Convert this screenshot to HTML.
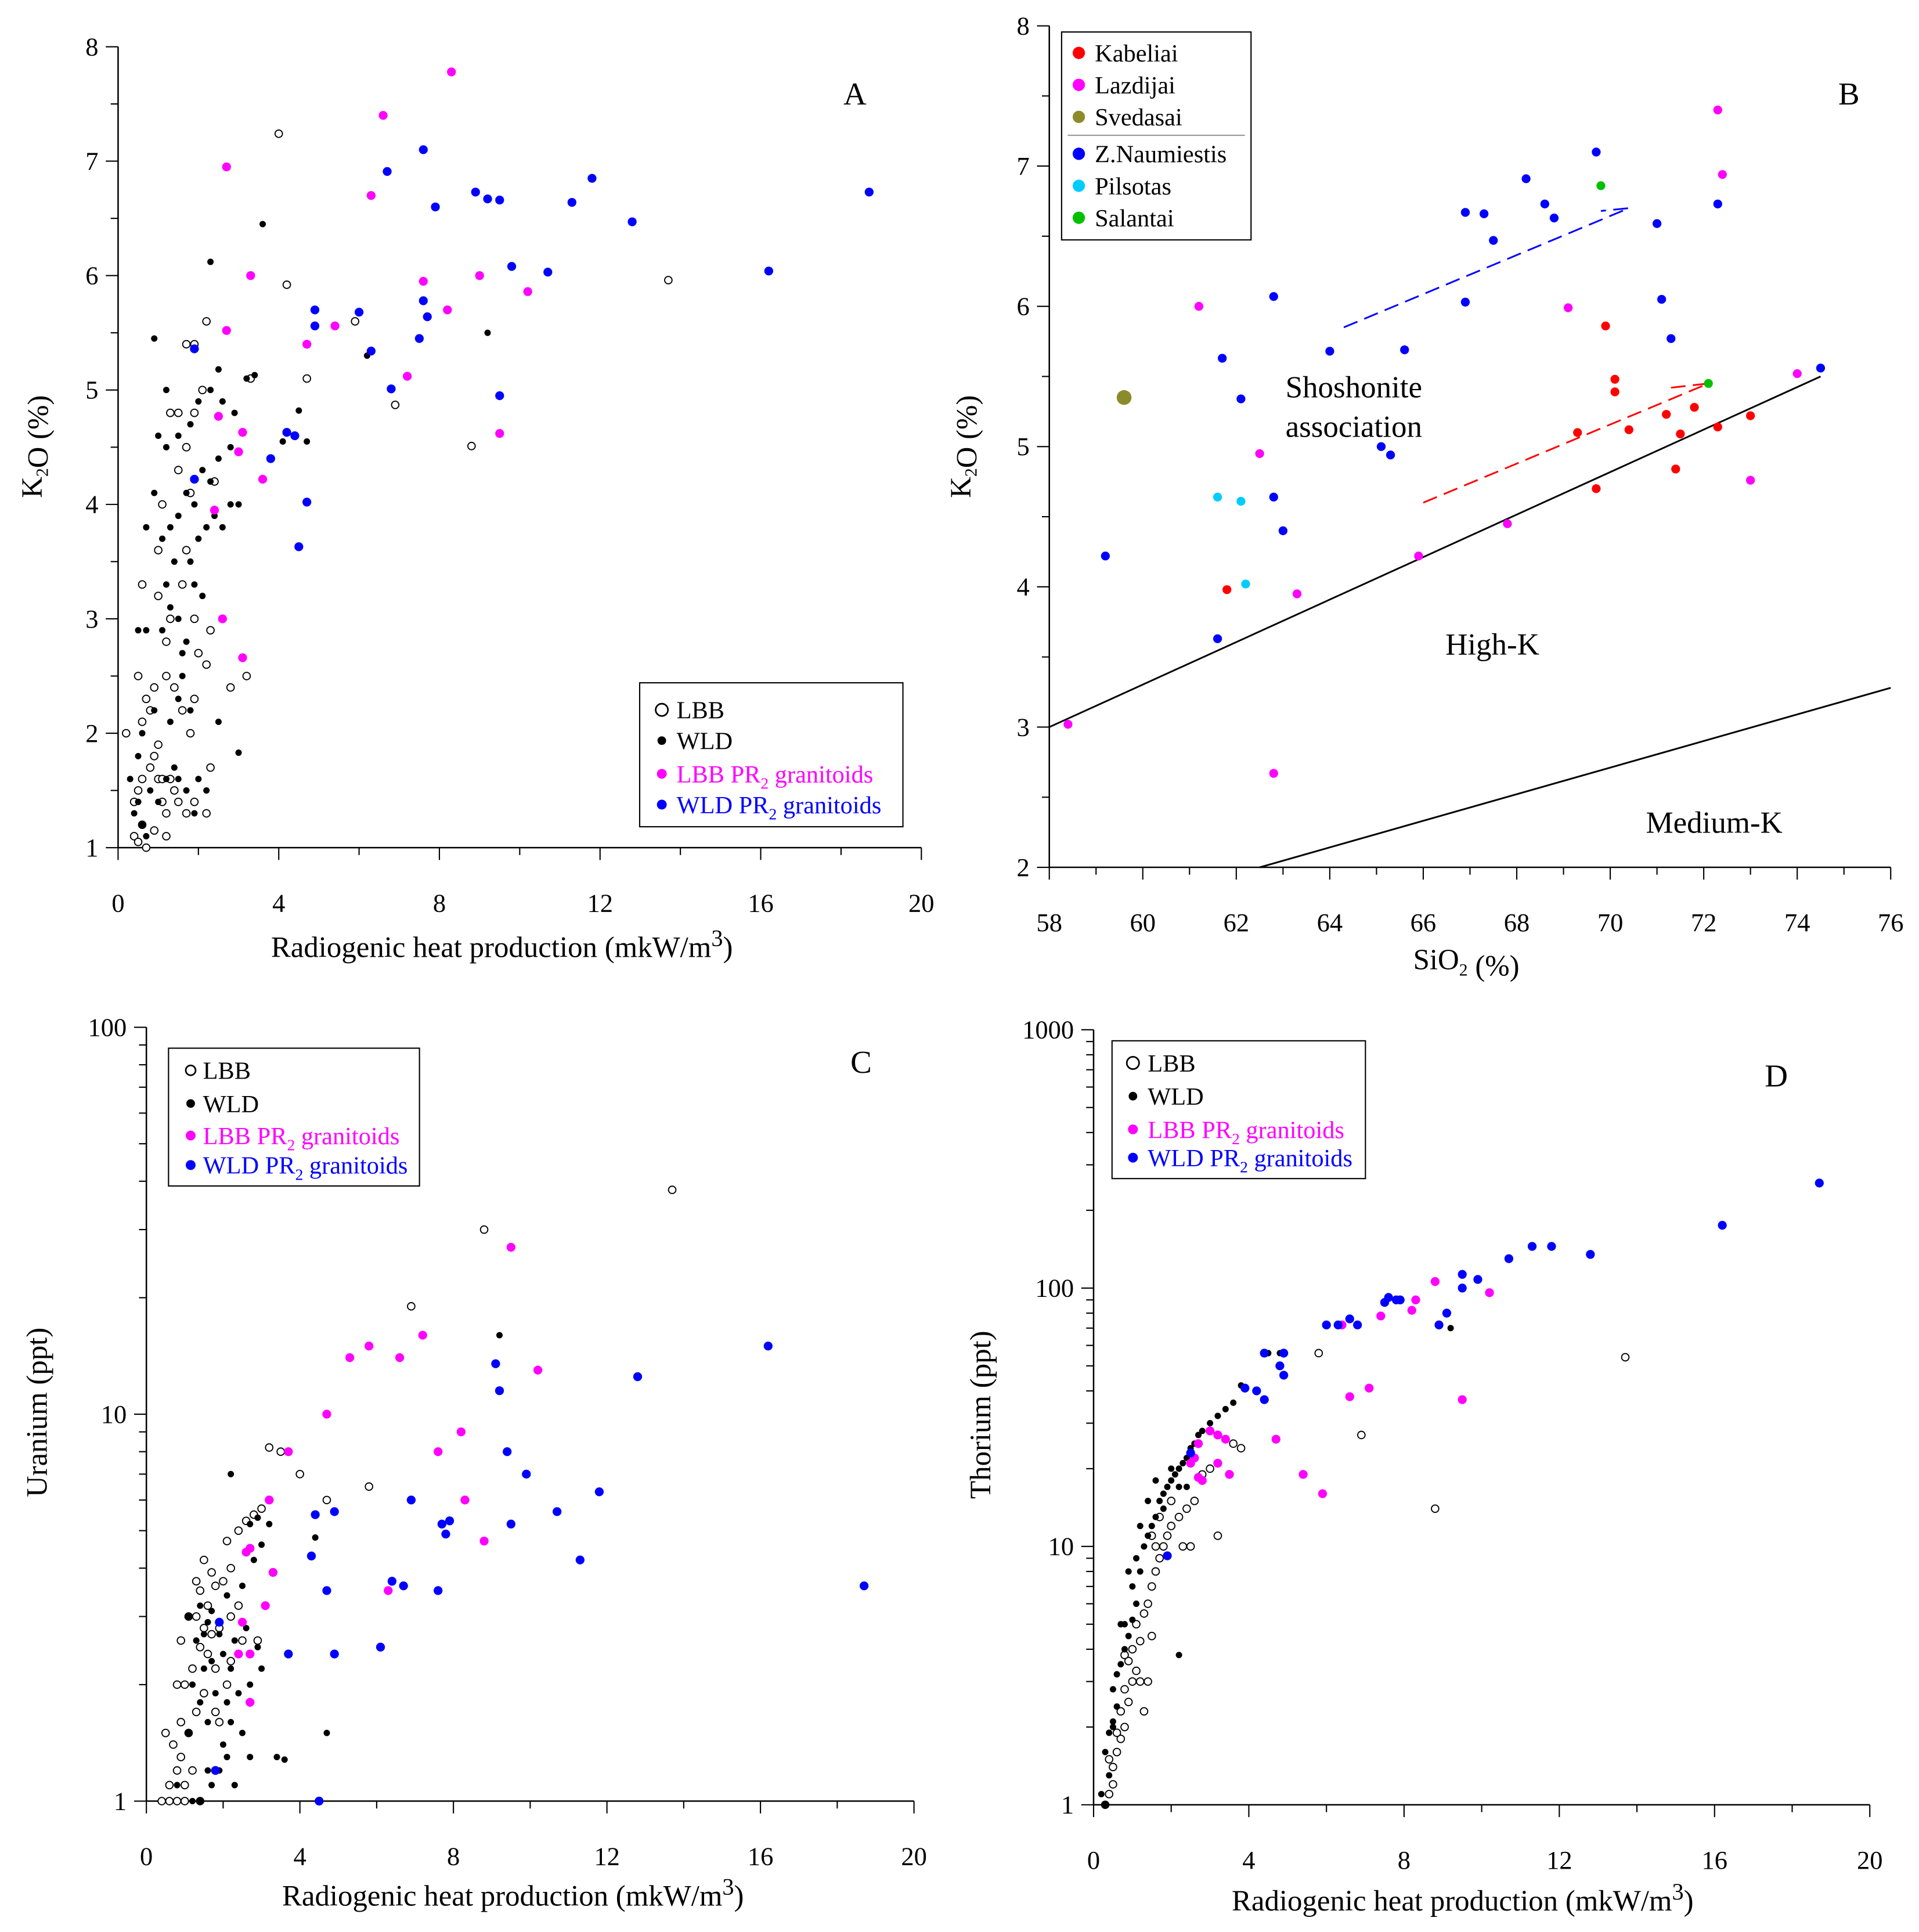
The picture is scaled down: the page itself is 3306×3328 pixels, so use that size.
<!DOCTYPE html>
<html><head><meta charset="utf-8"><style>
html,body{margin:0;padding:0;background:#fff;}
svg{display:block;font-family:"Liberation Serif",serif;}
</style></head><body>
<svg id="fig" xmlns="http://www.w3.org/2000/svg" width="3306" height="3328" viewBox="0 0 1560 1570.4" preserveAspectRatio="none">
<rect width="1560" height="1571" fill="#fff"/>
</svg>
<script>
// ---------------- DATA ----------------
const A_lbbPink=[[2.7,6.95],[6.6,7.4],[8.3,7.78],[3.3,6.0],[2.7,5.52],[6.3,6.7],[7.6,5.95],[9.0,6.0],[10.2,5.86],[5.4,5.56],[4.7,5.4],[8.2,5.7],[7.2,5.12],[2.5,4.77],[3.1,4.63],[3.0,4.46],[3.6,4.22],[2.4,3.95],[2.6,3.0],[3.1,2.66],[9.5,4.62]];
const A_wldBlue=[[18.7,6.73],[16.2,6.04],[11.8,6.85],[12.8,6.47],[11.3,6.64],[9.8,6.08],[10.7,6.03],[9.2,6.67],[9.5,6.66],[8.9,6.73],[7.6,7.1],[6.7,6.91],[7.9,6.6],[4.9,5.7],[6.0,5.68],[4.9,5.56],[7.6,5.78],[7.7,5.64],[6.3,5.34],[7.5,5.45],[6.8,5.01],[9.5,4.95],[4.2,4.63],[4.4,4.6],[3.8,4.4],[4.7,4.02],[4.5,3.63],[1.9,4.22],[1.9,5.36]];
const A_lbb=[[4.0,7.24],[4.2,5.92],[5.9,5.6],[13.7,5.96],[6.9,4.87],[8.8,4.51],[4.7,5.1],[0.2,2.0],[0.4,1.1],[0.5,1.05],[0.6,1.2],[0.7,1.0],[0.4,1.4],[0.5,1.5],[0.6,1.6],[0.8,1.7],[0.9,1.8],[1.0,1.6],[1.1,1.4],[1.2,1.3],[1.3,1.6],[1.4,1.5],[1.5,1.4],[1.7,1.3],[1.9,1.4],[2.2,1.3],[0.6,2.1],[0.7,2.3],[0.8,2.2],[0.9,2.4],[1.0,1.9],[1.2,2.5],[1.4,2.4],[1.6,2.2],[1.8,2.0],[1.9,2.3],[2.2,2.6],[2.3,2.9],[1.2,2.8],[1.0,3.2],[1.3,3.0],[1.6,3.3],[1.9,3.0],[2.0,2.7],[1.7,3.6],[1.0,3.6],[1.1,4.0],[1.5,4.3],[1.7,4.5],[1.9,4.8],[1.3,4.8],[1.5,4.8],[2.2,5.6],[1.7,5.4],[1.9,5.4],[2.4,4.2],[2.8,2.4],[3.2,2.5],[2.3,1.7],[1.2,1.1],[0.9,1.15],[1.1,1.6],[0.5,2.5],[0.6,3.3],[1.8,4.1],[2.1,5.0],[3.3,5.1]];
const A_wld=[[3.6,6.45],[2.3,6.12],[0.9,5.45],[9.2,5.5],[6.2,5.3],[3.4,5.13],[2.5,5.18],[4.5,4.82],[4.7,4.55],[4.1,4.55],[3.0,1.83],[0.3,1.6],[0.4,1.3],[0.5,1.4],[0.6,1.2],[0.7,1.1],[0.8,1.5],[1.0,1.4],[1.2,1.6],[1.4,1.7],[1.5,1.6],[1.7,1.5],[2.0,1.6],[2.2,1.5],[1.9,1.3],[0.5,1.8],[0.6,2.0],[0.9,2.2],[1.3,2.1],[1.5,2.3],[1.8,2.2],[1.6,2.5],[0.5,2.9],[0.7,2.9],[1.1,2.9],[1.3,3.1],[1.5,3.0],[1.6,2.7],[1.7,2.8],[2.1,3.2],[2.5,2.1],[1.2,3.3],[1.4,3.5],[1.8,3.5],[2.0,3.7],[2.2,3.8],[2.4,3.9],[2.6,3.8],[1.1,3.7],[1.3,3.8],[1.5,3.9],[1.7,4.1],[1.9,4.0],[2.1,4.3],[2.3,4.2],[2.5,4.4],[2.8,4.0],[3.0,4.0],[0.7,3.8],[0.9,4.1],[1.2,4.5],[1.5,4.6],[1.8,4.7],[2.0,4.9],[2.3,5.0],[2.6,4.9],[2.9,4.8],[2.8,4.5],[3.2,5.1],[1.0,4.6],[1.2,5.0],[1.9,3.3],[2.6,3.0]];

const B_kabeliai=[[61.8,3.98],[69.7,4.7],[69.9,5.86],[70.1,5.48],[70.1,5.39],[69.3,5.1],[70.4,5.12],[71.2,5.23],[71.5,5.09],[71.8,5.28],[72.3,5.14],[73.0,5.22],[71.4,4.84]];
const B_lazdijai=[[61.2,6.0],[72.3,7.4],[72.4,6.94],[69.1,5.99],[62.5,4.95],[67.8,4.45],[65.9,4.22],[63.3,3.95],[58.4,3.02],[62.8,2.67],[73.0,4.76],[74.0,5.52]];
const B_svedasai=[[59.6,5.35]];
const B_naumiestis=[[69.7,7.1],[68.2,6.91],[72.3,6.73],[66.9,6.67],[67.3,6.66],[68.6,6.73],[68.8,6.63],[67.5,6.47],[71.0,6.59],[62.8,6.07],[66.9,6.03],[71.1,6.05],[61.7,5.63],[64.0,5.68],[65.6,5.69],[71.3,5.77],[62.1,5.34],[65.1,5.0],[65.3,4.94],[62.8,4.64],[63.0,4.4],[59.2,4.22],[61.6,3.63],[74.5,5.56]];
const B_pilsotas=[[61.6,4.64],[62.1,4.61],[62.2,4.02]];
const B_salantai=[[69.8,6.86],[72.1,5.45]];
const B_lineHighK=[[58,3.0],[74.5,5.5]];
const B_lineMedK=[[62.5,2.0],[76,3.28]];
const B_trendBlue=[[64.3,5.85],[70.4,6.7],[69.8,6.68]];
const B_trendRed=[[66,4.6],[72.1,5.45],[71.3,5.42]];

const C_lbbPink=[[9.5,27],[7.2,16],[5.8,15],[5.3,14],[6.6,14],[10.2,13],[4.7,10],[3.7,8],[7.6,8],[8.2,9],[8.3,6],[3.2,6],[2.7,4.5],[3.3,3.9],[3.1,3.2],[2.5,2.9],[2.4,2.4],[2.7,2.4],[2.7,1.8],[8.8,4.7],[6.3,3.5],[2.6,4.4]];
const C_wldBlue=[[16.2,15],[12.8,12.5],[9.1,13.5],[9.2,11.5],[9.4,8],[9.9,7],[11.8,6.3],[6.9,6],[7.7,5.2],[7.9,5.3],[10.7,5.6],[9.5,5.2],[7.8,4.9],[4.9,5.6],[4.4,5.5],[11.3,4.2],[4.3,4.3],[6.4,3.7],[6.7,3.6],[7.6,3.5],[4.7,3.5],[18.7,3.6],[3.7,2.4],[4.9,2.4],[6.1,2.5],[1.9,2.9],[1.8,1.2],[4.5,1.0]];
const C_lbb=[[13.7,38],[8.8,30],[6.9,19],[5.8,6.5],[3.2,8.2],[3.5,8],[4,7],[4.7,6],[0.4,1.0],[0.6,1.0],[0.8,1.0],[1.0,1.0],[1.4,1.0],[0.6,1.1],[0.8,1.2],[0.9,1.3],[1.0,1.1],[1.2,1.2],[0.7,1.4],[0.9,1.6],[1.1,1.5],[1.3,1.7],[1.5,1.9],[1.8,1.7],[0.8,2.0],[1.0,2.0],[1.2,2.2],[1.4,2.5],[1.6,2.4],[1.8,2.2],[2.1,2.0],[0.9,2.6],[1.1,3.0],[1.3,3.0],[1.5,2.8],[1.7,2.7],[1.9,2.8],[2.2,3.0],[2.4,3.2],[1.4,3.5],[1.6,3.2],[1.8,3.6],[2.0,3.7],[2.2,4.0],[2.1,4.7],[2.4,5.0],[2.6,5.3],[2.8,5.5],[3.0,5.7],[1.5,4.2],[1.7,3.9],[1.3,3.7],[2.5,2.6],[0.5,1.5],[2.2,2.3],[2.9,2.6],[1.9,1.6]];
const C_wld=[[9.2,16],[2.2,7],[4.4,4.8],[4.7,1.5],[3.4,1.3],[3.6,1.28],[0.8,1.1],[1.2,1.0],[1.4,1.0],[1.7,1.1],[1.9,1.2],[2.1,1.3],[2.3,1.1],[1.6,1.2],[2.0,1.4],[2.2,1.6],[2.5,1.5],[2.7,1.3],[1.1,1.5],[1.4,1.8],[1.6,1.6],[1.8,1.9],[2.1,1.8],[2.4,1.9],[2.7,2.0],[3.0,2.2],[1.2,2.0],[1.5,2.2],[1.7,2.3],[2.0,2.4],[2.3,2.6],[2.6,2.8],[2.9,2.5],[1.3,2.6],[1.6,2.9],[1.9,2.7],[1.1,3.0],[1.4,3.2],[1.7,3.1],[2.1,3.4],[2.5,3.6],[2.8,4.2],[3.0,4.6],[2.7,5.2],[2.9,5.4],[3.2,5.2],[1.5,2.7],[2.2,2.2]];

const D_wldBlue=[[18.7,255],[16.2,175],[11.3,145],[11.8,145],[12.8,135],[10.7,130],[9.5,113],[9.9,108],[9.5,100],[9.1,80],[8.9,72],[7.5,88],[7.6,92],[7.8,90],[7.9,90],[6.6,76],[6.8,72],[6.0,72],[6.3,72],[4.4,56],[4.9,56],[4.8,50],[4.9,46],[4.2,40],[4.4,37],[3.9,41],[1.9,9.2],[2.5,23]];
const D_lbbPink=[[8.8,106],[10.2,96],[8.3,90],[7.4,78],[6.4,72],[8.2,82],[7.1,41],[6.6,38],[9.5,37],[4.7,26],[5.4,19],[5.9,16],[3.2,27],[3.0,28],[3.4,26],[3.5,19],[2.7,25],[2.6,22],[2.5,21],[3.2,21],[2.8,18],[2.7,18.5]];
const D_lbb=[[5.8,56],[13.7,54],[6.9,27],[8.8,14],[3.2,11],[0.3,1.0],[0.4,1.1],[0.5,1.2],[0.5,1.4],[0.6,1.6],[0.7,1.8],[0.8,2.0],[0.7,2.3],[0.9,2.5],[0.8,2.8],[1.0,3.0],[1.1,3.3],[0.9,3.6],[1.0,4.0],[1.2,4.3],[1.1,5.0],[1.3,5.5],[1.4,6.0],[1.5,7.0],[1.6,8.0],[1.7,9.0],[1.8,10],[1.9,11],[2.0,12],[2.2,13],[2.4,14],[2.6,15],[1.3,2.3],[1.4,3.0],[1.6,10],[1.5,11],[1.7,13],[2.3,10],[2.5,10],[0.4,1.5],[0.6,1.9],[0.8,3.8],[1.2,3.0],[1.5,4.5],[2.0,15],[2.8,19],[3.0,20],[3.6,25],[3.8,24]];
const D_wld=[[9.2,70],[4.5,56],[4.8,56],[2.2,3.8],[0.2,1.1],[0.3,1.0],[0.4,1.3],[0.3,1.6],[0.4,1.9],[0.5,2.1],[0.6,2.4],[0.5,2.8],[0.6,3.2],[0.7,3.5],[0.8,4.0],[0.9,4.5],[0.8,5.0],[1.0,5.2],[1.1,6.0],[1.0,7.0],[1.2,8.0],[1.1,9.0],[1.3,10],[1.4,11],[1.5,12],[1.6,13],[1.7,15],[1.8,16],[1.9,17],[2.0,18],[2.1,19],[2.2,20],[2.3,21],[2.4,22],[2.5,24],[2.6,25],[2.7,27],[2.8,28],[3.0,30],[3.2,32],[3.4,34],[3.6,36],[3.8,42],[1.4,15],[1.6,18],[1.8,14],[2.0,20],[2.2,17],[2.4,17],[1.2,12],[0.9,8],[0.7,5],[0.5,2.0]];

const xTicks20=[0,4,8,12,16,20];
const xTicksB=[58,60,62,64,66,68,70,72,74,76];
const yTicksA=[1,2,3,4,5,6,7,8];
const yTicksB=[2,3,4,5,6,7,8];
const yTicksC=[1,10,100];
const yTicksD=[1,10,100,1000];

// ---------------- HELPERS ----------------
const NS="http://www.w3.org/2000/svg";
const svg=document.getElementById('fig');
function mk(tag,attrs,parent){const e=document.createElementNS(NS,tag);for(const k in attrs)e.setAttribute(k,attrs[k]);(parent||svg).appendChild(e);return e;}
function lin(d0,d1,r0,r1){return v=>r0+(v-d0)*(r1-r0)/(d1-d0);}
function logs(d0,d1,r0,r1){return v=>r0+(Math.log10(v)-Math.log10(d0))*(r1-r0)/(Math.log10(d1)-Math.log10(d0));}
const BLUE="#0000ff",PINK="#ff00ff",RED="#ff0000",CYAN="#00ccff",GREEN="#00c000",OLIVE="#8b8b2a";

function txt(x,y,s,size,anchor,g,fill){const t=mk('text',{x:x,y:y,'font-size':size,'text-anchor':anchor||'middle',fill:fill||'#000'},g);t.innerHTML=s;return t;}

function axes(name,x0,x1,y0,y1,sx,sy,xt,xminor,yt,yminor){
  const g=mk('g',{});
  
  
  mk('line',{x1:x0,y1:y0,x2:x1,y2:y0,stroke:'#000','stroke-width':1.2},g);
  mk('line',{x1:x0,y1:y0,x2:x0,y2:y1,stroke:'#000','stroke-width':1.2},g);
  xt.forEach(v=>{const X=sx(v);mk('line',{x1:X,y1:y0,x2:X,y2:y0+10,stroke:'#000'},g);
    const t=txt(X,y0+52,v,21,'middle',g);});
  xminor.forEach(v=>{const X=sx(v);mk('line',{x1:X,y1:y0,x2:X,y2:y0+6,stroke:'#000'},g);});
  yt.forEach(v=>{const Y=sy(v);mk('line',{x1:x0,y1:Y,x2:x0-10,y2:Y,stroke:'#000'},g);
    const t=txt(x0-16,Y+7,v,21,'end',g);});
  yminor.forEach(v=>{const Y=sy(v);mk('line',{x1:x0,y1:Y,x2:x0-6,y2:Y,stroke:'#000'},g);});
}
function pts(name,data,sx,sy,style,r){
  const g=mk('g',{});
  
  
  data.forEach(p=>{
    const c=mk('circle',{cx:sx(p[0]),cy:sy(p[1]),r:r},g);
    
    
    if(style==='open'){c.setAttribute('fill','#fff');c.setAttribute('stroke','#000');c.setAttribute('stroke-width','0.9');}
    else c.setAttribute('fill',style);
  });
}
function legend(name,x,y,w,h,entries,mx,tx,size){
  const g=mk('g',{});
  
  
  mk('rect',{x:x,y:y,width:w,height:h,fill:'#fff',stroke:'#000','stroke-width':1},g);
  entries.forEach(e=>{
    const c=mk('circle',{cx:mx,cy:e.y,r:e.r||4},g);
    if(e.c==='open'){c.setAttribute('fill','#fff');c.setAttribute('stroke','#000');c.setAttribute('stroke-width','1.3');}
    else c.setAttribute('fill',e.c);
    const t=txt(tx,e.y+7,e.t,size||20,'start',g,e.tc||'#000');
    
    
  });
  return g;
}
function range(a,b,s){const r=[];for(let v=a;v<=b+1e-9;v+=s)r.push(+v.toFixed(3));return r;}
function logMinor(lo,hi){const r=[];for(let d=lo;d<hi;d*=10)for(let k=2;k<=9;k++)r.push(d*k);return r;}
const SUB2='<tspan font-size="14" dy="5">2</tspan><tspan dy="-5"></tspan>';
const XTITLE='Radiogenic heat production (mkW/m<tspan font-size="19" dy="-9">3</tspan><tspan dy="9">)</tspan>';

// ---------------- PANEL A ----------------
{const sx=lin(0,20,96,749),sy=lin(1,8,689,38);
 axes('panel-a',96,749,689,38,sx,sy,xTicks20,range(2,18,4),yTicksA,range(1.5,7.5,1));
 pts('a-lbb',A_lbb,sx,sy,'open',3);
 pts('a-wld',A_wld,sx,sy,'#000',2.6);
 pts('a-lbb-pr2',A_lbbPink,sx,sy,PINK,3.6);
 pts('a-wld-pr2',A_wldBlue,sx,sy,BLUE,3.6);
 let t=txt(695,85,'A',26);
 t=txt(408,778,XTITLE,24);
 t=txt(0,0,'K'+SUB2+'O (%)',24);t.setAttribute('transform','translate(34,363) rotate(-90)');
 legend('a-legend',520,555,214,117,[{y:577,c:'open',t:'LBB',r:5},{y:602,c:'#000',t:'WLD',r:3.5},{y:629,c:PINK,t:'LBB PR<tspan font-size="13" dy="5">2</tspan><tspan dy="-5"> granitoids</tspan>',tc:PINK},{y:654,c:BLUE,t:'WLD PR<tspan font-size="13" dy="5">2</tspan><tspan dy="-5"> granitoids</tspan>',tc:BLUE}],538,550,20);
}
// ---------------- PANEL B ----------------
{const sx=lin(58,76,853,1537),sy=lin(2,8,705,21);
 axes('panel-b',853,1537,705,21,sx,sy,xTicksB,range(59,75,2),yTicksB,range(2.5,7.5,1));
 const line=(d,name,color,dash)=>{const p=mk('polyline',{points:d.map(q=>sx(q[0])+','+sy(q[1])).join(' '),fill:'none',stroke:color,'stroke-width':1.4});if(dash)p.setAttribute('stroke-dasharray','12,6');};
 line(B_lineHighK,'high-k-boundary','#000');
 line(B_lineMedK,'medium-k-boundary','#000');
 line(B_trendBlue,'blue-trend-line',BLUE,true);
 line(B_trendRed,'red-trend-line',RED,true);
 pts('b-kabeliai',B_kabeliai,sx,sy,RED,3.6);
 pts('b-lazdijai',B_lazdijai,sx,sy,PINK,3.6);
 pts('b-svedasai',B_svedasai,sx,sy,OLIVE,6);
 pts('b-naumiestis',B_naumiestis,sx,sy,BLUE,3.6);
 pts('b-pilsotas',B_pilsotas,sx,sy,CYAN,3.6);
 pts('b-salantai',B_salantai,sx,sy,GREEN,3.6);
 let t=txt(1503,85,'B',26);
 t=txt(1045,323,'Shoshonite',25,'start');
 t=txt(1045,355,'association',25,'start');
 t=txt(1175,532,'High-K',25,'start');
 t=txt(1338,677,'Medium-K',25,'start');
 t=txt(1192,788,'SiO'+SUB2+' (%)',24);
 t=txt(0,0,'K'+SUB2+'O (%)',24);t.setAttribute('transform','translate(789,363) rotate(-90)');
 const lg=legend('b-legend',863,26,154,169,[{y:43,c:RED,t:'Kabeliai',r:5},{y:69,c:PINK,t:'Lazdijai',r:5},{y:95,c:OLIVE,t:'Svedasai',r:5},{y:125,c:BLUE,t:'Z.Naumiestis',r:5},{y:151,c:CYAN,t:'Pilsotas',r:5},{y:177,c:GREEN,t:'Salantai',r:5}],877,890,20);
 mk('line',{x1:868,y1:110,x2:1012,y2:110,stroke:'#999','stroke-width':1},lg);
}
// ---------------- PANEL C ----------------
{const sx=lin(0,20,119,743),sy=logs(1,100,1464,835);
 axes('panel-c',119,743,1464,835,sx,sy,xTicks20,range(2,18,4),yTicksC,logMinor(1,100));
 pts('c-lbb',C_lbb,sx,sy,'open',3);
 pts('c-wld',C_wld,sx,sy,'#000',2.6);
 pts('c-lbb-pr2',C_lbbPink,sx,sy,PINK,3.6);
 pts('c-wld-pr2',C_wldBlue,sx,sy,BLUE,3.6);
 let t=txt(700,872,'C',26);
 t=txt(417,1549,XTITLE,24);
 t=txt(0,0,'Uranium (ppt)',24);t.setAttribute('transform','translate(38,1148) rotate(-90)');
 legend('c-legend',137,852,204,112,[{y:870,c:'open',t:'LBB',r:4},{y:897,c:'#000',t:'WLD',r:3.5},{y:923,c:PINK,t:'LBB PR<tspan font-size="13" dy="5">2</tspan><tspan dy="-5"> granitoids</tspan>',tc:PINK},{y:947,c:BLUE,t:'WLD PR<tspan font-size="13" dy="5">2</tspan><tspan dy="-5"> granitoids</tspan>',tc:BLUE}],155,165,20);
}
// ---------------- PANEL D ----------------
{const sx=lin(0,20,889,1520),sy=logs(1,1000,1467,837);
 axes('panel-d',889,1520,1467,837,sx,sy,xTicks20,range(2,18,4),yTicksD,logMinor(1,1000));
 pts('d-lbb',D_lbb,sx,sy,'open',3);
 pts('d-wld',D_wld,sx,sy,'#000',2.6);
 pts('d-lbb-pr2',D_lbbPink,sx,sy,PINK,3.6);
 pts('d-wld-pr2',D_wldBlue,sx,sy,BLUE,3.6);
 let t=txt(1444,883,'D',26);
 t=txt(1189,1553,XTITLE,24);
 t=txt(0,0,'Thorium (ppt)',24);t.setAttribute('transform','translate(805,1150) rotate(-90)');
 legend('d-legend',904,846,206,112,[{y:864,c:'open',t:'LBB',r:5},{y:891,c:'#000',t:'WLD',r:3.5},{y:918,c:PINK,t:'LBB PR<tspan font-size="13" dy="5">2</tspan><tspan dy="-5"> granitoids</tspan>',tc:PINK},{y:941,c:BLUE,t:'WLD PR<tspan font-size="13" dy="5">2</tspan><tspan dy="-5"> granitoids</tspan>',tc:BLUE}],921,933,20);
}
</script>
</body></html>
